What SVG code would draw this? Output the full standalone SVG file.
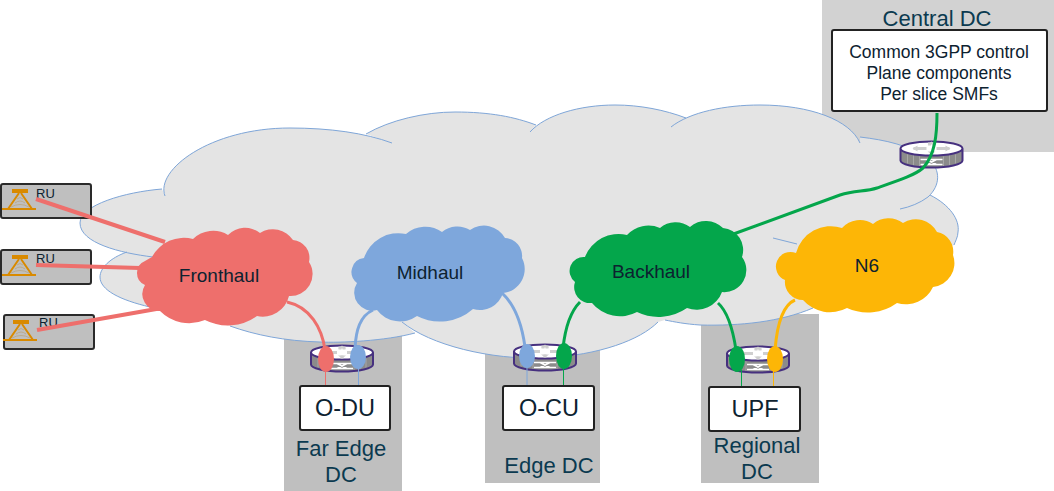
<svg xmlns="http://www.w3.org/2000/svg" width="1054" height="491" viewBox="0 0 1054 491">
<style>
text{font-family:"Liberation Sans",Arial,sans-serif;text-anchor:middle;fill:#0d2230}
.dc{fill:#bfbfbf}
.lbl{font-size:22px;fill:#0b3a50}
.box{fill:#fff;stroke:#222;stroke-width:2}
.bt{font-size:23.5px}
.ct{font-size:17.5px}
.cl{font-size:19px}
.ru{fill:#bfbfbf;stroke:#2a2a2a;stroke-width:2}
.rt{font-size:13px;text-anchor:start}
.tw{fill:none;stroke:#d98a00;stroke-width:2}
.red{fill:none;stroke:#ee6f6c;stroke-width:3}
.blue{fill:none;stroke:#7ea7dc;stroke-width:3}
.green{fill:none;stroke:#04a64b;stroke-width:3}
.yel{fill:none;stroke:#fdb606;stroke-width:3}
.thin{stroke-width:1;fill:none}
</style>
<defs>
<g id="router">
<path d="M-31,-6V6A31,7 0 0 0 31,6V-6Z" fill="#8b8b8b"/>
<g stroke="#b5b5b5" stroke-width="0.7"><path d="M-24,0v9M-18,0v11M-12,2v10M12,2v10M18,0v11M24,0v9"/></g>
<ellipse cy="-6" rx="31" ry="7" fill="#fff"/>
<path d="M-31,-6V6A31,7 0 0 0 31,6V-6M-31,-6A31,7 0 0 1 31,-6A31,7 0 0 1 -31,-6" fill="none" stroke="#46307f" stroke-width="2"/>
<path d="M-18,-6H-5M5,-6H18M-2,-12V-9M2,-12V-9M0,-3V0" stroke="#cfcfcf" stroke-width="3" fill="none"/>
<path d="M-19,-6l5,-3v6zM19,-6l-5,-3v6zM0,-13l-4,3h8zM0,0l-4,-3h8z" fill="#cfcfcf"/>
<path d="M-11,5H11M-11,10H11M-5,5L5,10M5,5L-5,10" stroke="#fff" stroke-width="1.500" fill="none"/>
</g>
<g id="tower">
<rect x="12" y="189" width="16" height="4" fill="#d98a00"/>
<path class="tw" d="M19,193L8,209M21,193L32,209M2,209H36"/>
<path d="M15,203Q20,199 25,203M17,199Q20,196 23,199M11,207Q20,202 29,207" fill="none" stroke="#b9a47f" stroke-width="0.800"/>
</g>
</defs>
<g id="dc-backgrounds">
<rect x="822" y="0" width="232" height="152" fill="#d2d2d2"/>
<rect class="dc" x="284" y="320" width="118" height="171"/>
<rect class="dc" x="485" y="330" width="115" height="153"/>
<rect class="dc" x="701" y="314" width="118" height="169"/>
</g>
<g id="transport-cloud">
<path fill="#e4e4e4" d="M165,196C155,170 210,128 290,128C330,128 365,133 392,143L366,134C390,120 425,112 455,112C490,112 515,117 536,125L530,132C545,115 580,105 615,105C640,105 665,110 686,118L671,127C690,112 725,105 760,105C810,105 850,120 860,143L860,137C885,140 910,145 930,160C940,170 941,185 928,197L930,195C950,205 960,220 958,232C958,237 955,242 954,245L813,308C780,322 740,326 700,325C685,324 675,322 665,320L658,322C640,340 600,355 545,358C490,360 430,345 402,322L415,333C385,341 340,343 320,342C285,341 255,335 230,326L150,307C120,300 100,290 100,277C100,268 110,258 127,252L153,257C120,253 80,243 80,223C80,205 125,192 162,189Z"/>
<path fill="none" stroke="#7fa6d8" stroke-width="1" d="M165,196C155,170 210,128 290,128C330,128 365,133 392,143M366,134C390,120 425,112 455,112C490,112 515,117 536,125M530,132C545,115 580,105 615,105C640,105 665,110 686,118M671,127C690,112 725,105 760,105C810,105 850,120 860,143M860,137C885,140 910,145 930,160C940,170 941,185 928,197C920,203 910,207 900,209M930,195C950,205 960,220 958,232C958,237 955,242 954,245M813,308C780,322 740,326 700,325C685,324 675,322 665,320M658,322C640,340 600,355 545,358C490,360 430,345 402,322M415,333C385,341 340,343 320,342C285,341 255,335 230,326M150,307C120,300 100,290 100,277C100,268 110,258 127,252M153,257C120,253 80,243 80,223C80,205 125,192 162,189M773,238L797,244"/>
</g>
<g id="ru-1"><rect class="ru" x="1" y="184" width="90" height="34" rx="2"/><use href="#tower"/><text class="rt" x="36" y="198">RU</text></g>
<g id="ru-2"><rect class="ru" x="1" y="250" width="90" height="34" rx="2"/><use href="#tower" y="66"/><text class="rt" x="36" y="263">RU</text></g>
<g id="ru-3"><rect class="ru" x="4" y="315" width="90" height="34" rx="2"/><use href="#tower" x="1" y="131"/><text class="rt" x="39" y="327">RU</text></g>
<g id="central-dc"><text class="lbl" x="937" y="26">Central DC</text><rect class="box" x="832" y="30" width="215" height="81" rx="2"/><text class="ct" x="939" y="58">Common 3GPP control</text><text class="ct" x="939" y="79">Plane components</text><text class="ct" x="939" y="100">Per slice SMFs</text></g>
<g id="router-central"><use href="#router" x="931.500" y="154.500"/></g>
<g id="router-far-edge"><use href="#router" x="342" y="358.500"/></g>
<g id="router-edge"><use href="#router" x="545" y="357.500"/></g>
<g id="router-regional"><use href="#router" x="758" y="359.500"/></g>
<g id="connectors">
<path class="red" style="stroke-width:4" d="M36,199L165,242M36,265L140,268M37,330L162,308"/>
<path class="red" d="M287,302C310,307 322,328 325,350"/>
<path class="blue" d="M373,310C360,316 356,330 355,348"/>
<path class="blue" d="M502,293C515,305 522,325 525,347"/>
<path class="green" d="M580,302C570,312 565,330 563,348"/>
<path class="green" d="M718,303C728,312 733,330 736,350"/>
<path class="yel" d="M795,300C783,305 777,325 775,350"/>
<path class="green" d="M728,236L840,195C855,190 865,192 877,188C900,180 915,175 923,168C935,155 937,135 937,113"/>
<path class="red thin" d="M325.500,370V386"/>
<path class="blue thin" d="M358.500,368V386"/>
<path class="blue thin" d="M527,367V386"/>
<path class="green thin" d="M563.500,367V386"/>
<path class="green thin" d="M741.500,370V387"/>
<path class="yel thin" d="M773.500,370V387"/>
</g>
<g id="port-markers">
<ellipse cx="326" cy="359" rx="8" ry="13" fill="#ee6f6c"/>
<ellipse cx="358" cy="357" rx="8" ry="12" fill="#7ea7dc"/>
<ellipse cx="527" cy="356" rx="8" ry="12" fill="#7ea7dc"/>
<ellipse cx="564" cy="356" rx="8" ry="13" fill="#04a64b"/>
<ellipse cx="737" cy="359" rx="8" ry="13" fill="#04a64b"/>
<ellipse cx="775" cy="359" rx="8" ry="13" fill="#fdb606"/>
</g>
<g id="fronthaul"><path fill="#ee6f6c" d="M152,257A36,36 0 0 1 193,239A29,29 0 0 1 228,235A24,24 0 0 1 260,233A24,24 0 0 1 293,240A18,18 0 0 1 309,262A22,22 0 0 1 289,296A27,27 0 0 1 257,316A50,50 0 0 1 205,320A41,41 0 0 1 160,311A17,17 0 0 1 145,285A13,13 0 0 1 145,261Z"/><text class="cl" x="219" y="282">Fronthaul</text></g>
<g id="midhaul"><path fill="#7ea7dc" d="M364,258A36,36 0 0 1 406,234A29,29 0 0 1 442,232A24,24 0 0 1 470,230A24,24 0 0 1 505,238A18,18 0 0 1 522,258A24,24 0 0 1 503,293A24,24 0 0 1 473,309A50,50 0 0 1 417,316A29,29 0 0 1 377,310A18,18 0 0 1 357,283A14,14 0 0 1 364,258Z"/><text class="cl" x="430" y="279">Midhaul</text></g>
<g id="backhaul"><path fill="#04a64b" d="M585,257A36,36 0 0 1 627,235A29,29 0 0 1 660,228A24,24 0 0 1 690,227A24,24 0 0 1 723,228A22,22 0 0 1 742,257A22,22 0 0 1 722,292A27,27 0 0 1 687,308A50,50 0 0 1 637,312A36,36 0 0 1 592,303A16,16 0 0 1 575,282A14,14 0 0 1 585,257Z"/><text class="cl" x="651" y="278">Backhaul</text></g>
<g id="n6"><path fill="#fdb606" d="M796,253A36,36 0 0 1 842,228A24,24 0 0 1 873,224A24,24 0 0 1 903,223A24,24 0 0 1 937,232A20,20 0 0 1 953,255A24,24 0 0 1 933,287A30,30 0 0 1 897,303A50,50 0 0 1 847,308A36,36 0 0 1 803,300A18,18 0 0 1 785,280A14,14 0 0 1 796,253Z"/><text class="cl" x="867" y="272">N6</text></g>
<g id="o-du"><rect class="box" x="300" y="386" width="90" height="44" rx="2"/><text class="bt" x="345" y="416">O-DU</text><text class="lbl" x="341" y="456">Far Edge</text><text class="lbl" x="341" y="482">DC</text></g>
<g id="o-cu"><rect class="box" x="503" y="386" width="91" height="44" rx="2"/><text class="bt" x="549" y="416">O-CU</text><text class="lbl" x="549" y="473">Edge DC</text></g>
<g id="upf"><rect class="box" x="709" y="387" width="91" height="44" rx="2"/><text class="bt" x="755" y="417">UPF</text><text class="lbl" x="757" y="453">Regional</text><text class="lbl" x="757" y="479">DC</text></g>
</svg>
